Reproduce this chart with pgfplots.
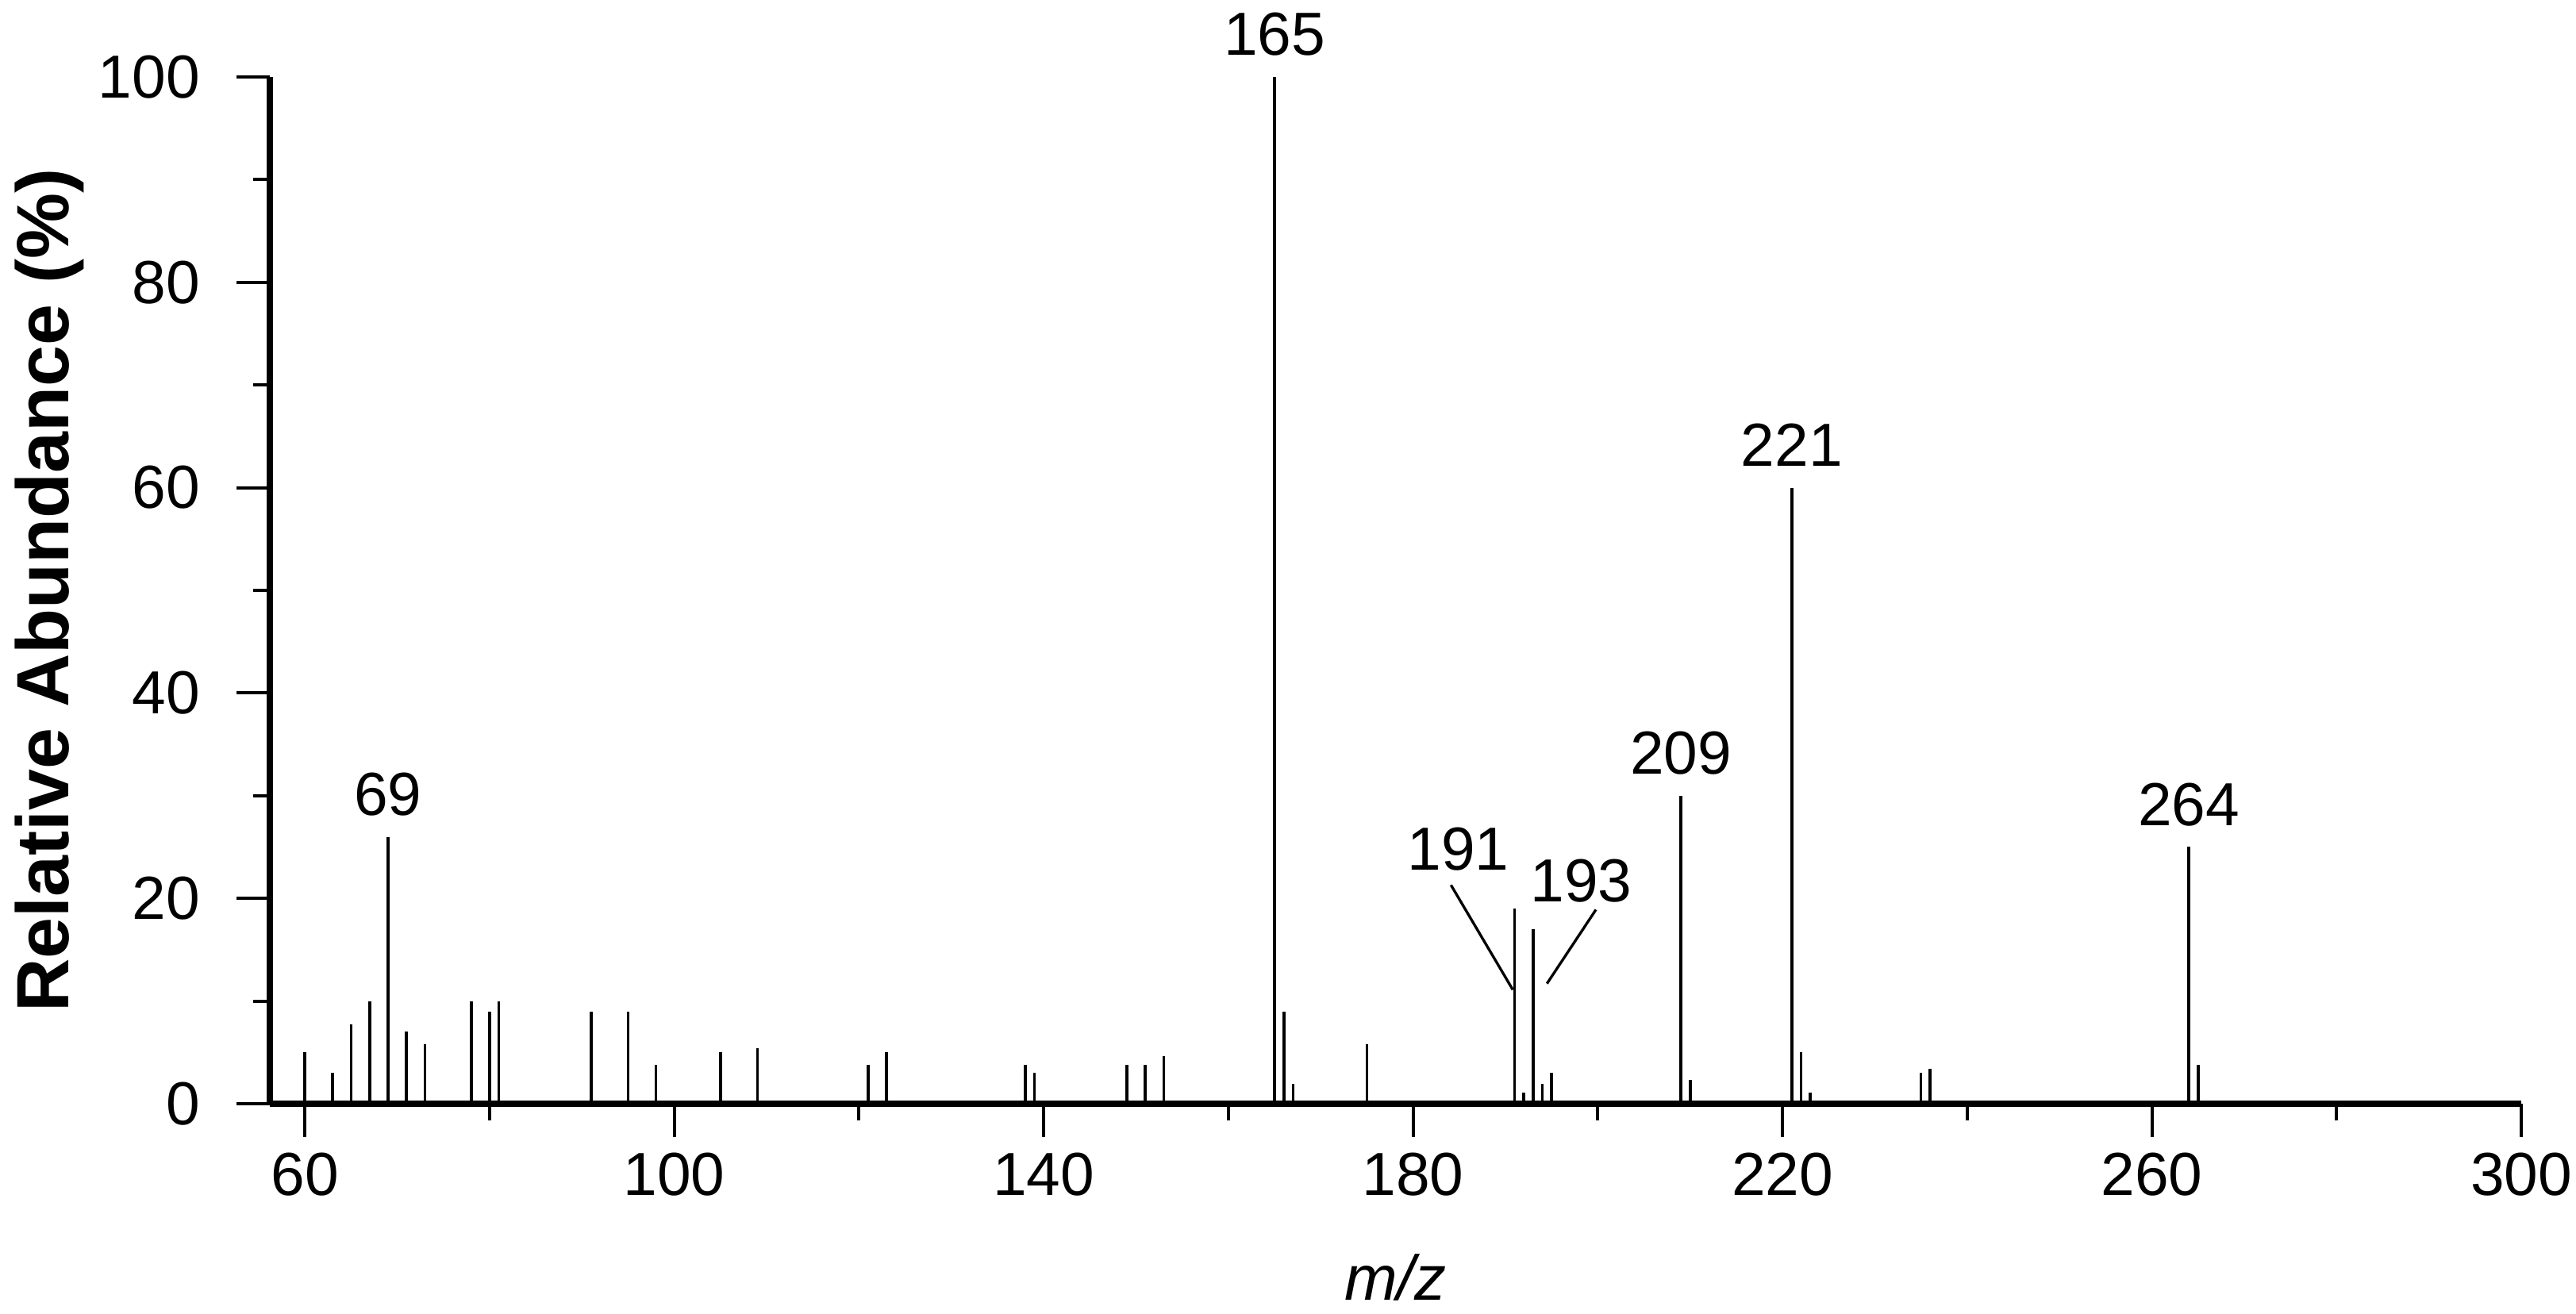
\documentclass[border=0pt]{standalone}
\usepackage{fontspec}
\setmainfont{Liberation Sans}
\usepackage{pgfplots}
\pgfplotsset{compat=1.18}

\begin{document}
\begin{tikzpicture}
\begin{axis}[
    scale only axis,
    width=425.55pt, height=194.1pt,
    xmin=56.2, xmax=300, ymin=0, ymax=100,
    axis lines=left,
    axis line style={line width=1.3pt, -},
    xtick={60,100,...,300}, ytick={0,20,...,100},
    minor tick num=1,
    tick align=outside,
    major tick length=6.3pt, minor tick length=3.2pt,
    tick style={line width=0.6pt, black},
    /pgf/number format/assume math mode=true,
    tick label style={font=\fontsize{11.5}{13}\selectfont},
    yticklabel style={xshift=-3.4pt},
    xticklabel style={yshift=0.6pt},
    xlabel={\textit{m/z}},
    ylabel={\textbf{Relative Abundance (\%)}},
    xlabel style={font=\fontsize{12}{14}\selectfont, at={(axis description cs:0.5,0)}, anchor=center, yshift=-32.8pt},
    ylabel style={font=\fontsize{14}{16}\selectfont, at={([xshift=-41.7pt]axis description cs:0,0.5)}, anchor=center},
    clip=false,
]
\coordinate (O) at (rel axis cs:0,0);
\addplot[ycomb, black, line width=0.55pt, no marks] coordinates {
(60,5) (63,3) (65,7.7) (67,10) (69,26) (71,7) (73,5.8)
(78,10) (80,9) (81,10) (91,9) (95,9) (98,3.8) (105,5) (109,5.4)
(121,3.8) (123,5) (138,3.8) (139,3) (149,3.8) (151,3.8) (153,4.6)
(165,100) (166,9) (167,1.9) (175,5.8)
(191,19) (192,1.1) (193,17) (194,1.9) (195,3)
(209,30) (210,2.3) (221,60) (222,5) (223,1.1)
(235,3) (236,3.4) (264,25) (265,3.8)
};
\begin{scope}[every node/.style={font=\fontsize{11.5}{13}\selectfont, inner sep=0pt, anchor=south, yshift=3.8pt}]
\node at (axis cs:69,26) {69};
\node at (axis cs:165,100) {165};
\node at (axis cs:209,30) {209};
\node at (axis cs:221,60) {221};
\node at (axis cs:264,25) {264};
\end{scope}
\node[font=\fontsize{11.5}{13}\selectfont, inner sep=0pt] at (axis cs:184.9,24.8) {191};
\node[font=\fontsize{11.5}{13}\selectfont, inner sep=0pt] at (axis cs:198.2,21.7) {193};
\draw[line width=0.5pt] (axis cs:184.1,21.3) -- (axis cs:190.8,11.1);
\draw[line width=0.5pt] (axis cs:199.8,18.9) -- (axis cs:194.5,11.7);
\end{axis}
\pgfresetboundingbox
\path[use as bounding box] (O) ++(-51pt,-39.75pt) rectangle ++(486.9pt,248.4pt);
\end{tikzpicture}
\end{document}
